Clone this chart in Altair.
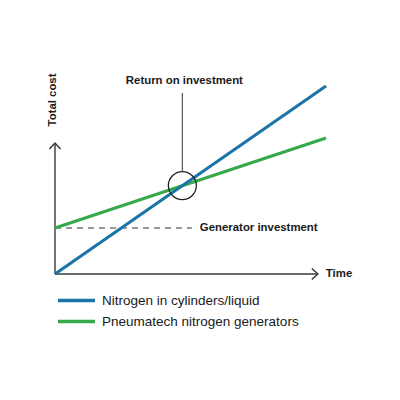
import altair as alt
import pandas as pd

# ---- data ----
t_points = [0, 10]
nitrogen_cyl = [0, 94]          # Nitrogen in cylinders/liquid
pneumatech = [23, 68]           # Pneumatech nitrogen generators
series_names = ["Nitrogen in cylinders/liquid", "Pneumatech nitrogen generators"]
series_colors = ["#1a74a8", "#36aa4a"]

generator_investment = 23
dash_end_t = 5.05
roi_t = 4.7
roi_cost = 44.2
leader_top = 90.5
roi_label_cost = 96.5
x_axis_end = 9.7
y_axis_end = 65.5
y_title_cost = 87

FONT = "Liberation Sans"
TXT = "#1a1a1a"

xs = alt.Scale(domain=[0, 10])
ys = alt.Scale(domain=[0, 100])
cs = alt.Scale(domain=series_names, range=series_colors)

lines_df = pd.DataFrame({
    "t": t_points * 2,
    "cost": nitrogen_cyl + pneumatech,
    "series": [series_names[0]] * 2 + [series_names[1]] * 2,
})

def X(f="t"):
    return alt.X(f + ":Q", scale=xs, axis=None)

def Y(f="cost"):
    return alt.Y(f + ":Q", scale=ys, axis=None)

base_line = alt.Chart(lines_df).mark_line(strokeWidth=3, clip=False).encode(
    x=X(), y=Y(), color=alt.Color("series:N", scale=cs, legend=None)
)
green = base_line.transform_filter(alt.datum.series == series_names[1])
blue = base_line.transform_filter(alt.datum.series == series_names[0])

# dashed generator investment line
dash_df = pd.DataFrame({"t": [0], "t2": [dash_end_t], "cost": [generator_investment]})
dash = alt.Chart(dash_df).mark_rule(strokeDash=[6, 5], strokeWidth=1, color="#333333").encode(
    x=X(), x2="t2:Q", y=Y()
)
dash_text = alt.Chart(pd.DataFrame({"t": [dash_end_t], "cost": [generator_investment],
                                    "label": ["Generator investment"]})).mark_text(
    align="left", baseline="middle", dx=8, font=FONT, fontWeight="bold", fontSize=11.4, color=TXT
).encode(x=X(), y=Y(), text="label:N")

# axes
axis_df = pd.DataFrame({"t": [0, 0], "t2": [x_axis_end, 0], "cost": [0, 0], "cost2": [0, y_axis_end]})
axes = alt.Chart(axis_df).mark_rule(strokeWidth=1.4, color="#3a3a3a").encode(
    x=X(), x2="t2:Q", y=Y(), y2="cost2:Q"
)
yarrow = alt.Chart(pd.DataFrame({"t": [0], "cost": [y_axis_end]})).mark_point(
    shape="M-1,1.1L0,0L1,1.1", size=121, filled=False, strokeWidth=1.5, color="#3a3a3a", opacity=1
).encode(x=X(), y=Y())
xarrow = alt.Chart(pd.DataFrame({"t": [x_axis_end], "cost": [0]})).mark_point(
    shape="M-1.1,-1L0,0L-1.1,1", size=121, filled=False, strokeWidth=1.5, color="#3a3a3a", opacity=1
).encode(x=X(), y=Y())
time_text = alt.Chart(pd.DataFrame({"t": [x_axis_end], "cost": [0], "label": ["Time"]})).mark_text(
    align="left", baseline="middle", dx=8, font=FONT, fontWeight="bold", fontSize=11.4, color=TXT
).encode(x=X(), y=Y(), text="label:N")
ytitle = alt.Chart(pd.DataFrame({"t": [-0.085], "cost": [y_title_cost], "label": ["Total cost"]})).mark_text(
    align="center", baseline="middle", angle=270, font=FONT, fontWeight="bold", fontSize=11.4, color=TXT
).encode(x=X(), y=Y(), text="label:N")

# return on investment marker
roi_df = pd.DataFrame({"t": [roi_t], "cost": [roi_cost], "top": [leader_top],
                       "lab": [roi_label_cost], "label": ["Return on investment"]})
circle = alt.Chart(roi_df).mark_point(
    shape="circle", size=784, filled=False, strokeWidth=1.3, color="#222222", opacity=1
).encode(x=X(), y=Y())
leader = alt.Chart(roi_df).transform_calculate(c0="datum.cost + 7").mark_rule(
    strokeWidth=1.2, color="#555555"
).encode(x=X(), y=alt.Y("c0:Q", scale=ys, axis=None), y2="top:Q")
roi_text = alt.Chart(roi_df).mark_text(
    align="center", baseline="middle", dx=2, font=FONT, fontWeight="bold", fontSize=11.4, color=TXT
).encode(x=X(), y=alt.Y("lab:Q", scale=ys, axis=None), text="label:N")

# legend (drawn manually so the rows stay close together)
leg_df = pd.DataFrame({"series": series_names})
leg_y = alt.Y("series:N", scale=alt.Scale(type="point", domain=series_names,
                                          range=[226.5, 247.5], padding=0), axis=None)
leg_rule = alt.Chart(leg_df).mark_rule(strokeWidth=3.5).encode(
    x=alt.value(3), x2=alt.value(40), y=leg_y,
    color=alt.Color("series:N", scale=cs, legend=None)
)
leg_text = alt.Chart(leg_df).mark_text(
    align="left", baseline="middle", font=FONT, fontSize=13.5, color=TXT
).encode(x=alt.value(47), y=leg_y, text="series:N")

chart = alt.layer(
    dash, axes, yarrow, xarrow, green, blue, circle, leader,
    dash_text, time_text, ytitle, roi_text, leg_rule, leg_text
).resolve_scale(y="independent").properties(
    width=271, height=200,
    padding={"left": 47, "top": 66, "right": 60, "bottom": 70},
    autosize=alt.AutoSizeParams(type="none"),
    background="white",
).configure_view(stroke=None)

chart.save("out.html", embed_options={"renderer": "svg", "actions": False})
